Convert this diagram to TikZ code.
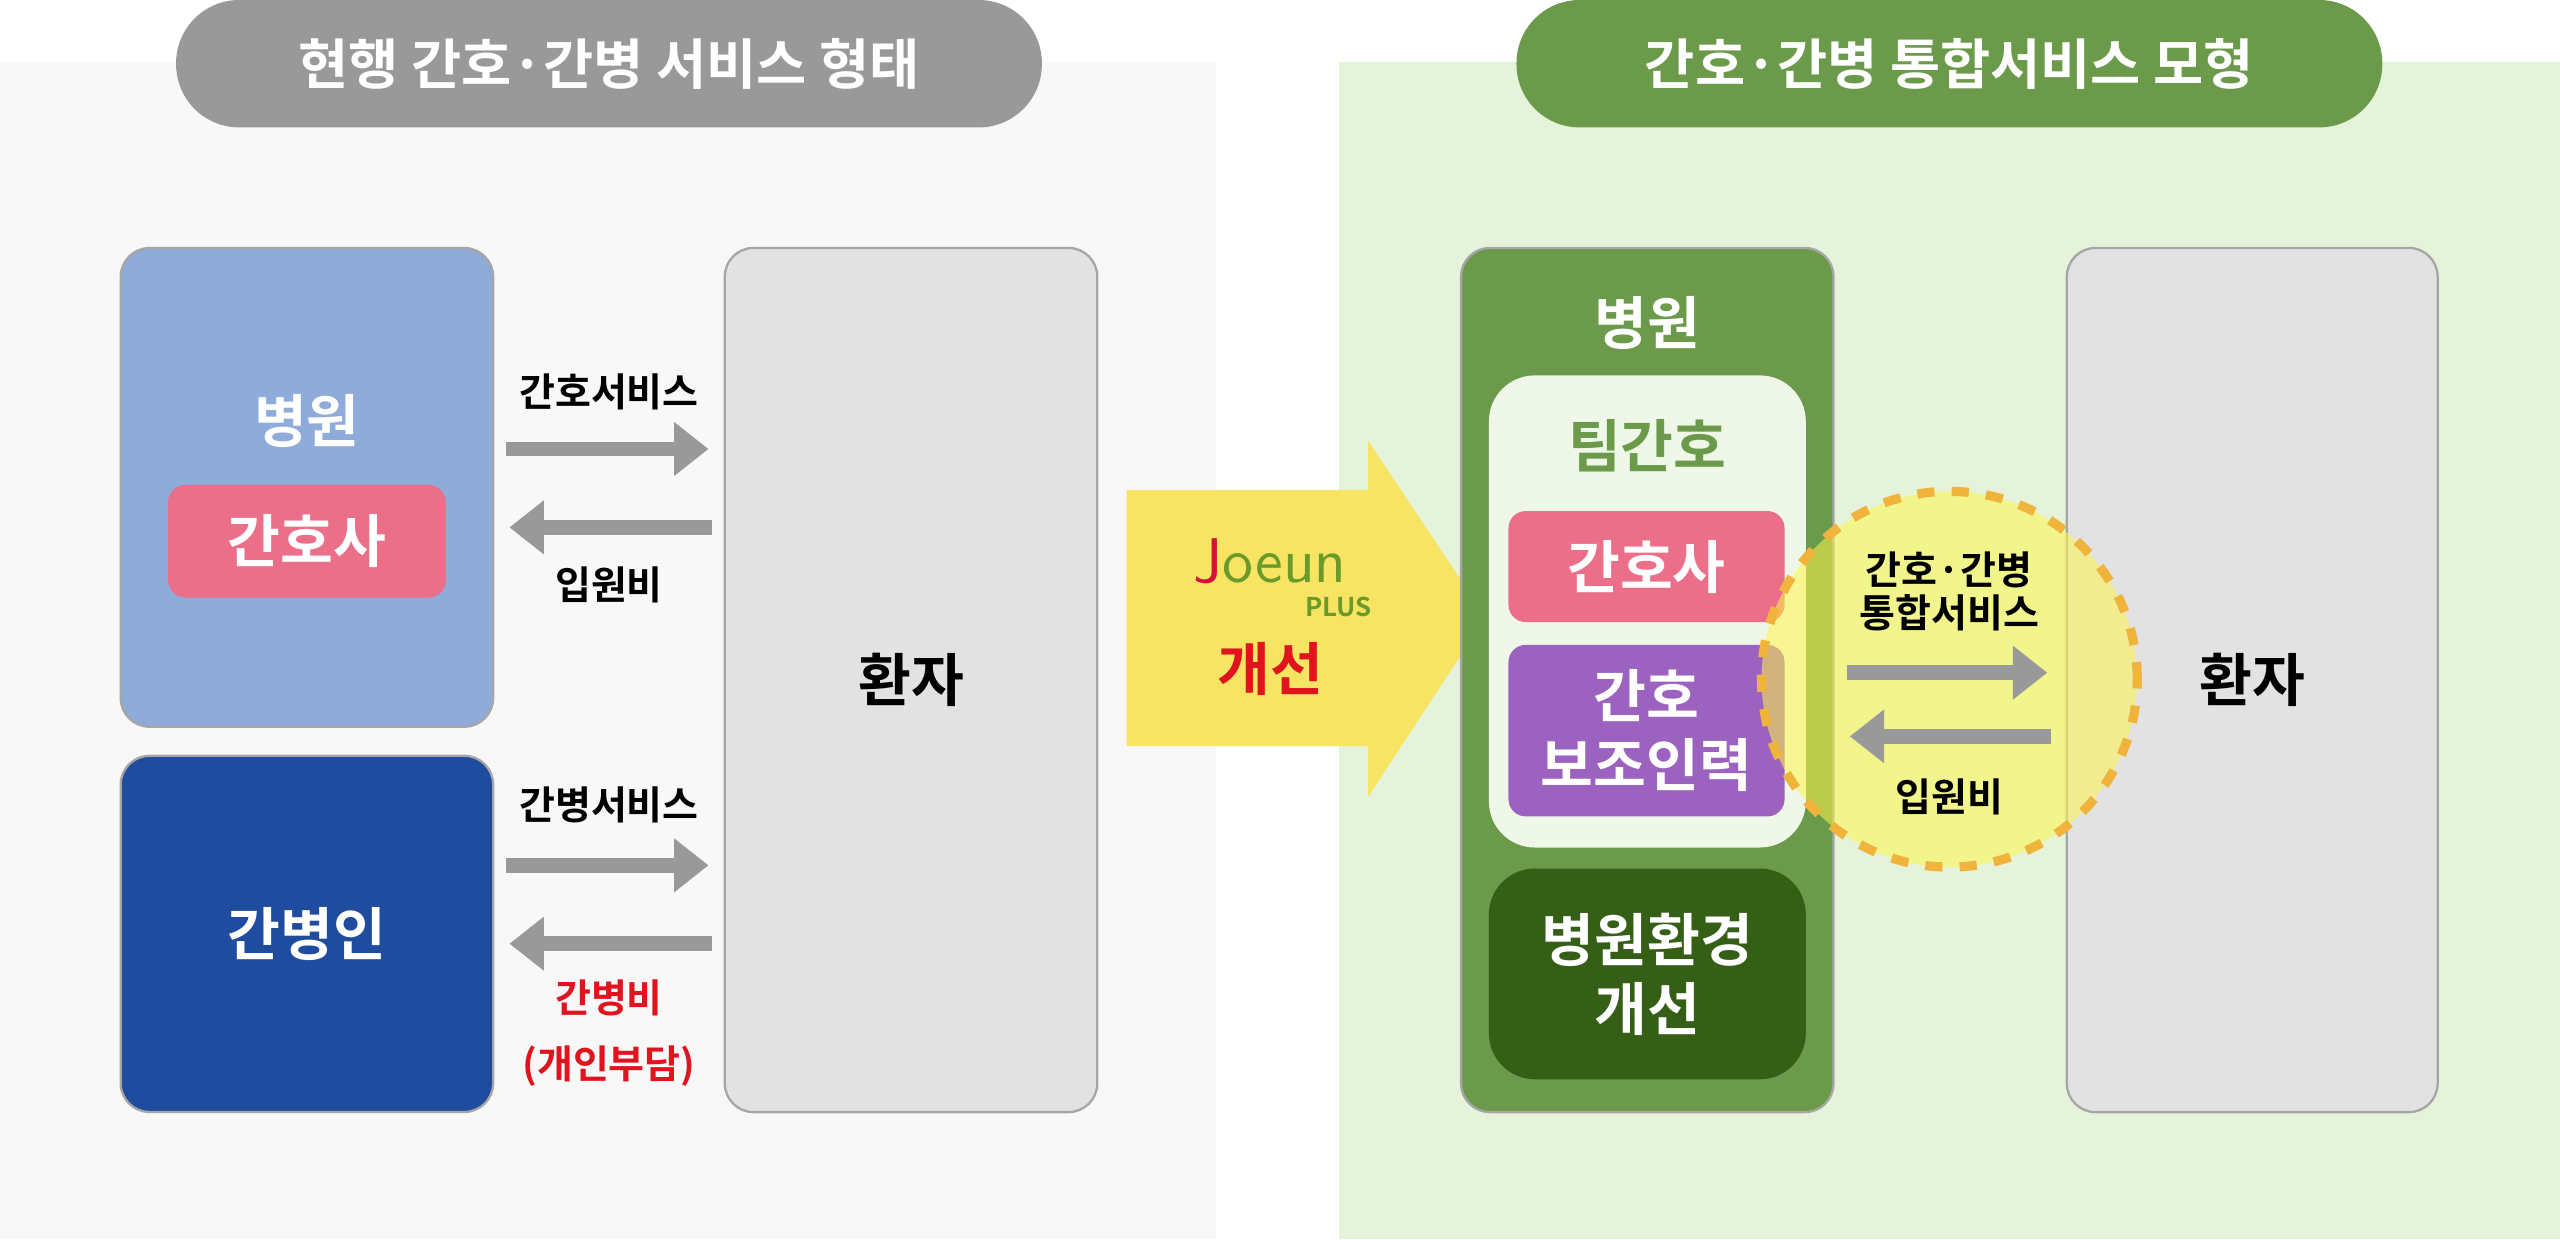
\documentclass[tikz,border=0pt]{standalone}
\usepackage{fontspec}
\setmainfont{Noto Sans CJK KR}[BoldFont={Noto Sans CJK KR Bold}]
\usetikzlibrary{arrows.meta}
\definecolor{panelgray}{HTML}{F8F8F8}
\definecolor{panelgreen}{HTML}{E4F3D9}
\definecolor{headgray}{HTML}{999999}
\definecolor{leafgreen}{HTML}{6A9A4A}
\definecolor{skyblue}{HTML}{8EABDA}
\definecolor{navyblue}{HTML}{1F4C9E}
\definecolor{rosepink}{HTML}{EC6F8A}
\definecolor{violet}{HTML}{9B62C0}
\definecolor{forest}{HTML}{355E17}
\definecolor{patientgray}{HTML}{E2E2E2}
\definecolor{sunyellow}{HTML}{F7E463}
\definecolor{dashorange}{HTML}{F0B43C}
\definecolor{alertred}{HTML}{E0141E}
\definecolor{logored}{HTML}{D2143C}
\definecolor{logogreen}{HTML}{6A9A2A}

\tikzset{
  box/.style={rounded corners=5pt, draw=gray!70, line width=0.4pt, inner sep=0pt,
              font=\bfseries\fontsize{10}{12}\selectfont, align=center},
  header/.style={rounded corners=11pt, minimum width=5.3cm, minimum height=0.78cm,
                 text=white, font=\bfseries\fontsize{9.5}{11}\selectfont},
  label/.style={font=\bfseries\fontsize{6.8}{8.5}\selectfont, align=center},
  flow/.style={-{Triangle[length=6pt,width=9pt]}, draw=headgray, line width=2.6pt}
}

\begin{document}
\begin{tikzpicture}[x=0.01cm,y=-0.01cm]
  \useasboundingbox (0,0) rectangle (1568,759);

  % panels
  \fill[panelgray] (0,38) rectangle (745,759);
  \fill[panelgreen] (820,38) rectangle (1568,759);
  \node[header, fill=headgray] (hleft) at (373,39) {현행 간호·간병 서비스 형태};
  \node[header, fill=leafgreen] (hright) at (1194,39) {간호·간병 통합서비스 모형};

  % left side
  \node[box, fill=skyblue, minimum width=2.28cm, minimum height=2.93cm] (hosp) at (188,298.5) {};
  \node[box, text=white, draw=none] (hosplbl) at (188,258) {병원};
  \node[box, fill=rosepink, draw=none, rounded corners=3pt, text=white,
        minimum width=1.70cm, minimum height=0.69cm] (nurse) at (188,331.5) {간호사};
  \node[box, fill=navyblue, text=white, minimum width=2.28cm, minimum height=2.18cm] (carer) at (188,572) {간병인};
  \node[box, fill=patientgray, minimum width=2.28cm, minimum height=5.29cm] (pat) at (558,416.5) {환자};

  \coordinate (a1s) at (310,275);  \coordinate (a1e) at (434,275);
  \coordinate (a2s) at (436,323);  \coordinate (a2e) at (312,323);
  \coordinate (a3s) at (310,530);  \coordinate (a3e) at (434,530);
  \coordinate (a4s) at (436,578);  \coordinate (a4e) at (312,578);
  \draw[flow] (a1s) -- (a1e);
  \draw[flow] (a2s) -- (a2e);
  \draw[flow] (a3s) -- (a3e);
  \draw[flow] (a4s) -- (a4e);
  \node[label] (l1) at (373,240) {간호서비스};
  \node[label] (l2) at (373,358) {입원비};
  \node[label] (l3) at (373,493) {간병서비스};
  \node[label, text=alertred] (l4) at (373,633) {간병비\\[3pt](개인부담)};

  % big arrow
  \fill[sunyellow] (690,300) -- (838,300) -- (838,270) -- (910,378)
                   -- (838,488) -- (838,457) -- (690,457) -- cycle;
  \node[font=\fontsize{11}{12}\selectfont\sffamily] (logo) at (778,344)
       {\textcolor{logored}{J}\textcolor{logogreen}{oeun}};
  \node[font=\bfseries\fontsize{4.5}{5}\selectfont, text=logogreen] (plus) at (820,372) {PLUS};
  \node[box, draw=none, text=alertred] (better) at (778,410) {개선};

  % right side
  \node[box, fill=leafgreen, minimum width=2.28cm, minimum height=5.29cm] (hosp2) at (1009,416.5) {};
  \node[box, text=white, draw=none] (hosp2lbl) at (1009,198) {병원};
  \node[box, fill=panelgreen!60!white, draw=none, rounded corners=8pt,
        minimum width=1.94cm, minimum height=2.89cm] (team) at (1009,374.5) {};
  \node[box, text=leafgreen, draw=none] (teamlbl) at (1009,273) {팀간호};
  \node[box, fill=rosepink, draw=none, rounded corners=3pt, text=white,
        minimum width=1.69cm, minimum height=0.68cm] (nurse2) at (1008.5,347) {간호사};
  \node[box, fill=violet, draw=none, rounded corners=3pt, text=white,
        minimum width=1.69cm, minimum height=1.05cm] (aide) at (1008.5,447.5) {간호\\보조인력};
  \node[box, fill=forest, draw=none, rounded corners=8pt, text=white,
        minimum width=1.94cm, minimum height=1.29cm] (env) at (1009,596.5) {병원환경\\개선};
  \node[box, fill=patientgray, minimum width=2.27cm, minimum height=5.29cm] (pat2) at (1379.5,416.5) {환자};

  \node[circle, minimum size=2.30cm, fill=yellow!70!white, fill opacity=0.55,
        draw=dashorange, dashed, line width=1.6pt] (ring) at (1194,416) {};
  \coordinate (b1s) at (1131,412);  \coordinate (b1e) at (1254,412);
  \coordinate (b2s) at (1256,451);  \coordinate (b2e) at (1133,451);
  \draw[flow] (b1s) -- (b1e);
  \draw[flow] (b2s) -- (b2e);
  \node[label] (m1) at (1194,362) {간호·간병\\[-1pt]통합서비스};
  \node[label] (m2) at (1194,488) {입원비};
\end{tikzpicture}
\end{document}
